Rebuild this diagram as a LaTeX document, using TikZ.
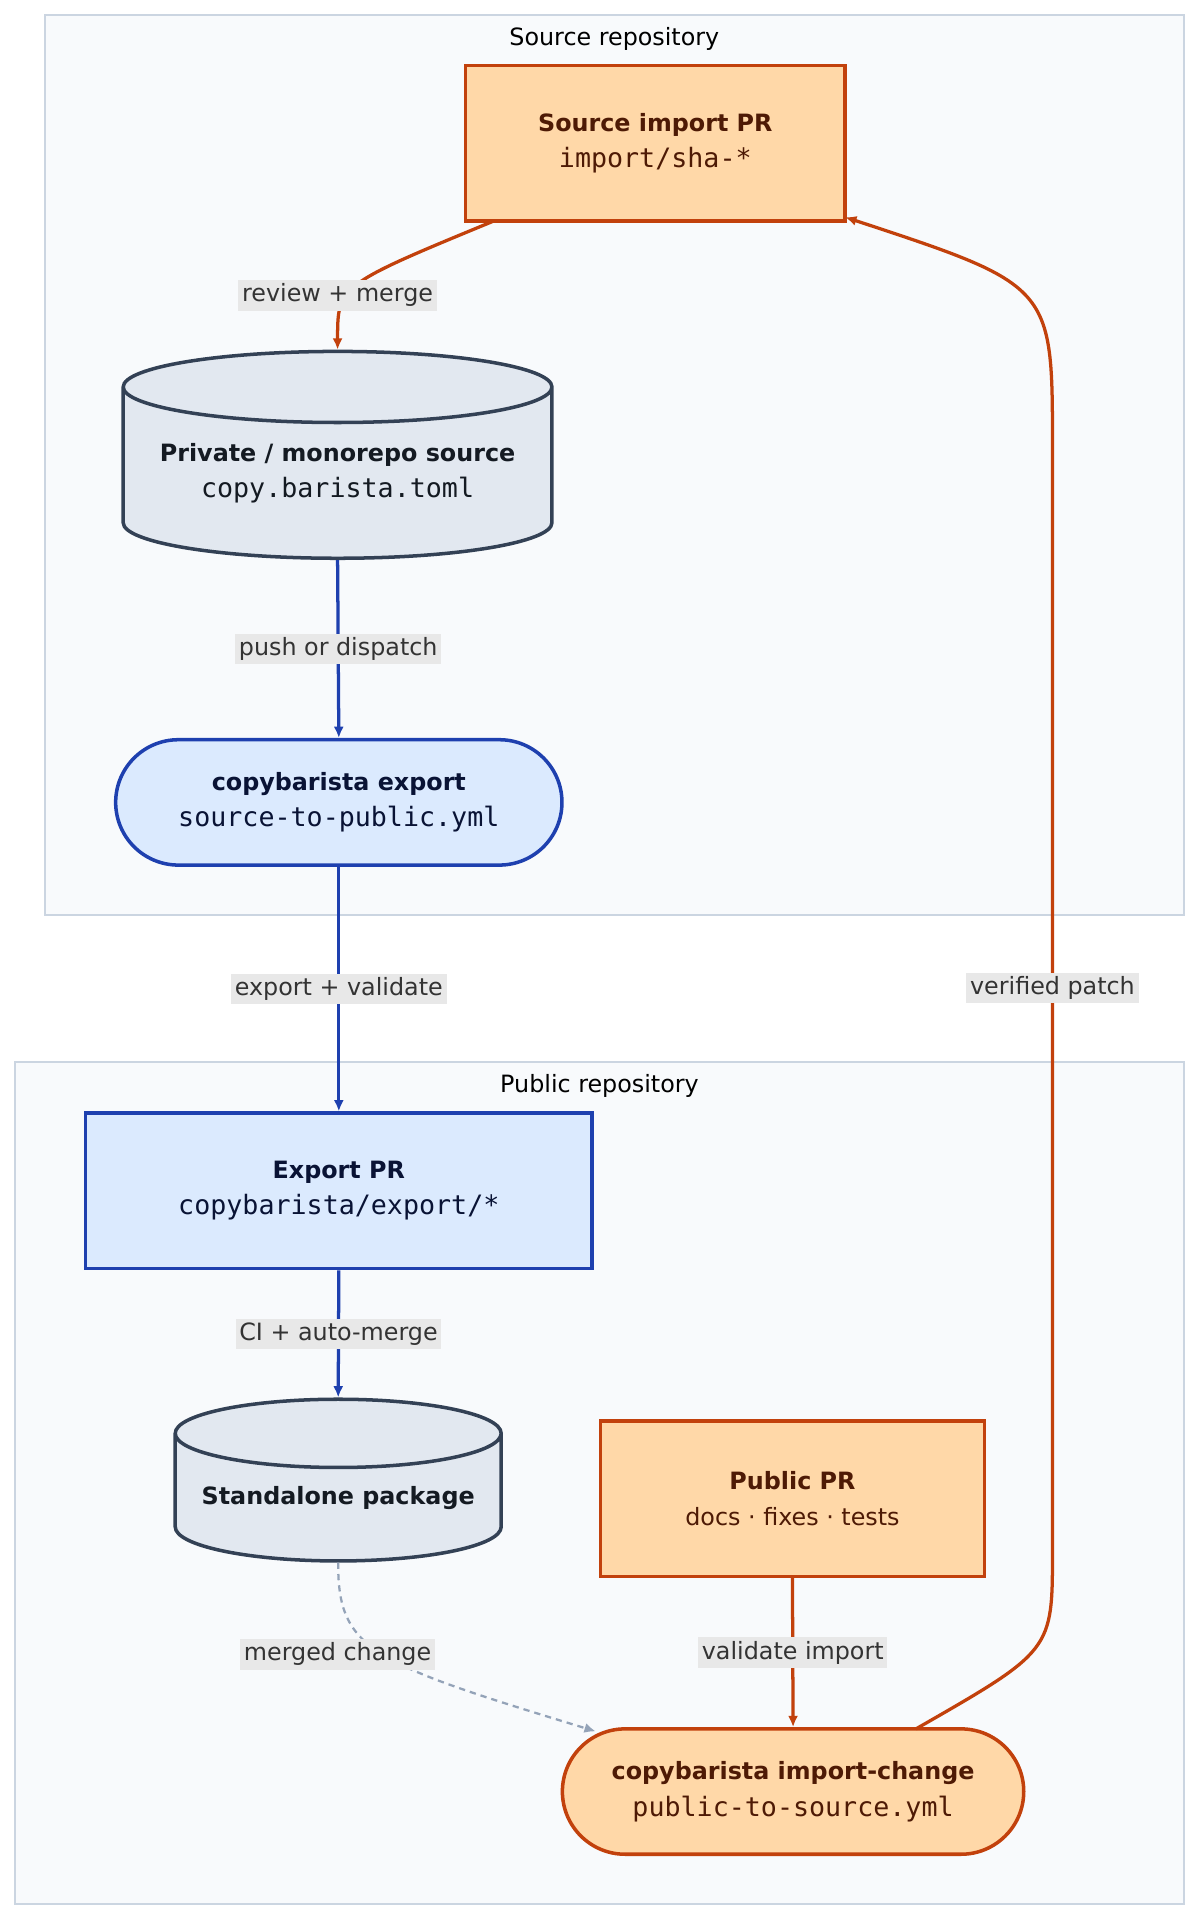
\documentclass[tikz,border=0pt]{standalone}
\usepackage{fontspec}
\setmainfont{DejaVu Sans}
\setmonofont[Scale=1.12]{DejaVu Sans Mono}
\usetikzlibrary{shapes.geometric,shapes.misc,arrows.meta}
\definecolor{orangefill}{HTML}{FFD8A8}
\definecolor{orangeline}{HTML}{C2410C}
\definecolor{bluefill}{HTML}{DBEAFE}
\definecolor{blueline}{HTML}{1E40AF}
\definecolor{slatefill}{HTML}{E2E8F0}
\definecolor{slateline}{HTML}{334155}
\definecolor{clusterfill}{HTML}{F8FAFC}
\definecolor{clusterline}{HTML}{CBD5E1}
\definecolor{labelfill}{HTML}{E8E8E8}
\definecolor{dashline}{HTML}{94A3B8}
\tikzset{
  box/.style={draw, line width=2.8pt, align=center, inner sep=0pt, font=\fontsize{19}{29}\selectfont},
  orangebox/.style={box, fill=orangefill, draw=orangeline, text=orangeline!40!black},
  bluebox/.style={box, fill=bluefill, draw=blueline, text=blueline!30!black},
  stadium/.style={rounded rectangle},
  drum/.style={box, cylinder, shape border rotate=90, fill=slatefill, draw=slateline, text=slateline!40!black},
  edgelabel/.style={fill=labelfill, text=black!80, inner sep=3pt, font=\fontsize{19}{22}\selectfont},
  cluster/.style={draw=clusterline, fill=clusterfill, line width=1.5pt},
  orangeedge/.style={draw=orangeline, line width=2.6pt, -{Latex[length=9pt,width=8pt]}},
  blueedge/.style={draw=blueline, line width=2.6pt, -{Latex[length=9pt,width=8pt]}},
}
\begin{document}
\begin{tikzpicture}[x=0.99pt, y=-0.99pt]
  \useasboundingbox (0,0) rectangle (967,1547);
  % clusters
  \draw[cluster] (36,12) rectangle (954,737);
  \node (srctitle) at (495,31) [font=\fontsize{19}{22}\selectfont] {Source repository};
  \draw[cluster] (12,856) rectangle (954,1534);
  \node (pubtitle) at (483,875) [font=\fontsize{19}{22}\selectfont] {Public repository};

  % source side
  \node[orangebox, minimum width=303pt, minimum height=124pt] (srcpr) at (528,115.5)
    {\textbf{Source import PR}\\\texttt{import/sha-*}};
  \node[drum, minimum width=342pt, minimum height=165pt, aspect=0.2] (private) at (272,381.5)
    {\textbf{Private / monorepo source}\\\texttt{copy.barista.toml}};
  \node[bluebox, stadium, minimum width=356pt, minimum height=100pt] (export) at (273,646.5)
    {\textbf{copybarista export}\\\texttt{source-to-public.yml}};

  % public side
  \node[bluebox, minimum width=404pt, minimum height=124pt] (exportpr) at (273,959.5)
    {\textbf{Export PR}\\\texttt{copybarista/export/*}};
  \node[drum, minimum width=260pt, minimum height=129pt, aspect=0.25] (package) at (272.5,1207)
    {\textbf{Standalone package}};
  \node[orangebox, minimum width=306pt, minimum height=124pt] (pubpr) at (638.5,1207.5)
    {\textbf{Public PR}\\docs · fixes · tests};
  \node[orangebox, stadium, minimum width=368pt, minimum height=100pt] (importchange) at (639,1443.5)
    {\textbf{copybarista import-change}\\\texttt{public-to-source.yml}};

  % connectors
  \coordinate (srcout) at (398,178);
  \draw[orangeedge] (srcout) .. controls (272,230) .. (private.top);
  \node[edgelabel] (reviewlabel) at (272,238) {review + merge};
  \draw[blueedge] (private.bottom) -- (export.north) node[midway, edgelabel] {push or dispatch};
  \draw[blueedge] (export.south) -- (exportpr.north) node[midway, edgelabel] {export + validate};
  \draw[blueedge] (exportpr.south) -- (package.top) node[midway, edgelabel] {CI + auto-merge};
  \draw[dashline, line width=1.8pt, dash pattern=on 5pt off 4pt, -{Latex[length=9pt,width=8pt]}]
    (package.bottom) .. controls (272,1330) and (300,1340) .. (480,1395);
  \node[edgelabel] (mergedlabel) at (272,1333) {merged change};
  \draw[orangeedge] (pubpr.south) -- (importchange.north) node[midway, edgelabel] {validate import};
  \coordinate (impout) at (738,1393);
  \draw[orangeedge] (impout) .. controls (848,1330) .. (848,1250) -- (848,360)
    .. controls (848,230) .. (681,175);
  \node[edgelabel] (verlabel) at (848,796) {verified patch};
\end{tikzpicture}
\end{document}
